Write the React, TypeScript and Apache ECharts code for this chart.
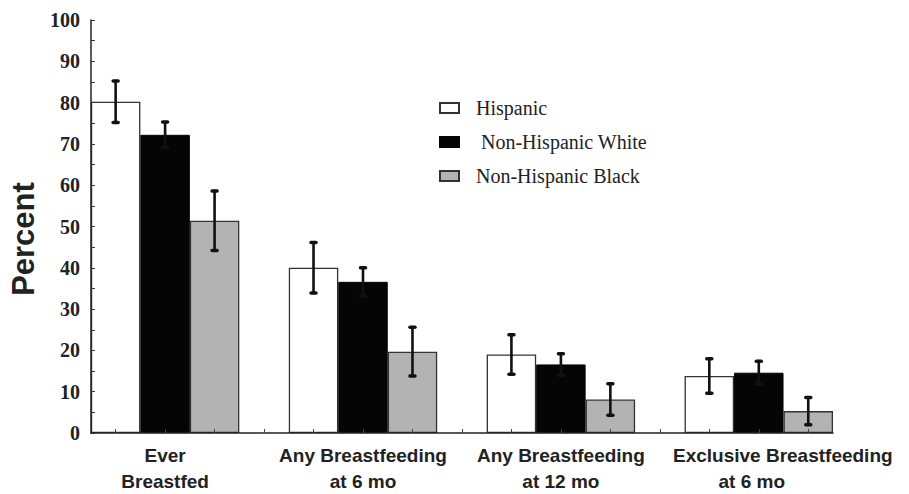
import React, { useEffect, useRef } from "react";
import * as echarts from "echarts";

const categories = ["Ever\nBreastfed", "Any Breastfeeding\nat 6 mo", "Any Breastfeeding\nat 12 mo", "Exclusive Breastfeeding\nat 6 mo"];
const seriesNames = ["Hispanic", "Non-Hispanic White", "Non-Hispanic Black"];
const hispanic = [80.2, 40.0, 19.0, 13.8];
const white = [72.2, 36.6, 16.6, 14.6];
const black = [51.4, 19.7, 8.1, 5.3];
const hispanicErr = [5.0, 6.1, 4.8, 4.2];
const whiteErr = [3.1, 3.4, 2.6, 2.8];
const blackErr = [7.2, 5.9, 3.8, 3.3];
const yTicks = { min: 0, max: 100, interval: 10 };

const SLOTS_PER_GROUP = 4;

export default function App() {
  const ref = useRef<HTMLDivElement>(null);
  useEffect(() => {
    if (!ref.current) return;
    document.body.style.margin = "0";
    const chart = echarts.init(ref.current, null, { renderer: "svg" });
    const totalSlots = categories.length * SLOTS_PER_GROUP - 1;
    const slotLabels: string[] = [];
    for (let i = 0; i < totalSlots; i++) {
      slotLabels.push(i % SLOTS_PER_GROUP === 1 ? categories[Math.floor(i / SLOTS_PER_GROUP)] : "");
    }
    const lastLabel = categories[categories.length - 1];
    const values = [hispanic, white, black];
    const errs = [hispanicErr, whiteErr, blackErr];
    const styles = [
      { color: "#ffffff", borderColor: "#333333", borderWidth: 1.3 },
      { color: "#050505", borderColor: "#050505", borderWidth: 1 },
      { color: "#b3b3b3", borderColor: "#333333", borderWidth: 1.3 },
    ];
    const barSeries = values.map((vals, s) => ({
      name: seriesNames[s],
      type: "bar",
      barWidth: "100%",
      barGap: "-100%",
      itemStyle: styles[s],
      z: 2,
      data: vals.map((v, g) => [g * SLOTS_PER_GROUP + s, v]),
    }));
    const errData: number[][] = [];
    values.forEach((vals, s) => {
      vals.forEach((v, g) => {
        errData.push([g * SLOTS_PER_GROUP + s, v - errs[s][g], v + errs[s][g]]);
      });
    });
    const errSeries = {
      type: "custom",
      z: 5,
      silent: true,
      data: errData,
      renderItem: (params: any, api: any) => {
        const x = api.value(0);
        const lo = api.coord([x, api.value(1)]);
        const hi = api.coord([x, api.value(2)]);
        const cx = lo[0];
        const st = { stroke: "#111", lineWidth: 2.6, lineCap: "round" };
        const cap = 2.5;
        return {
          type: "group",
          children: [
            { type: "line", shape: { x1: cx, y1: lo[1], x2: cx, y2: hi[1] }, style: st },
            { type: "line", shape: { x1: cx - cap, y1: lo[1], x2: cx + cap, y2: lo[1] }, style: { ...st, lineWidth: 3.5 } },
            { type: "line", shape: { x1: cx - cap, y1: hi[1], x2: cx + cap, y2: hi[1] }, style: { ...st, lineWidth: 3.5 } },
          ],
        };
      },
    };
    const labelFont = {
      fontFamily: "'Liberation Sans', Arial, sans-serif",
      fontWeight: "bold",
      fontSize: 19,
      lineHeight: 26,
      color: "#222",
    };
    chart.setOption({
      animation: false,
      backgroundColor: "#ffffff",
      grid: { left: 88, right: 76, top: 20, bottom: 56, containLabel: false },
      legend: {
        orient: "vertical",
        left: 434,
        top: 93,
        itemWidth: 19,
        itemHeight: 10,
        itemGap: 14,
        icon: "rect",
        data: seriesNames,
        formatter: (n: string) => (n === "Non-Hispanic White" ? " " + n : n),
        textStyle: {
          fontFamily: "'Liberation Serif', 'Times New Roman', serif",
          fontSize: 20,
          color: "#222",
          padding: [0, 0, 0, 12],
        },
      },
      xAxis: {
        type: "category",
        data: slotLabels,
        boundaryGap: true,
        z: 4,
        axisLine: { show: true, lineStyle: { color: "#222", width: 1.5 } },
        axisTick: { show: true, inside: true, alignWithLabel: true, interval: 0, length: 4, lineStyle: { color: "#444" } },
        axisLabel: {
          interval: 0,
          margin: 9,
          ...labelFont,
          formatter: (v: string) => {
            if (v === lastLabel) {
              const parts = v.split("\n");
              return "{shift|" + parts[0] + "}\n{back|" + parts[1] + "}";
            }
            return v;
          },
          rich: {
            shift: { ...labelFont, padding: [0, 0, 0, 48] },
            back: { ...labelFont, padding: [0, 14, 0, 0] },
          },
        },
      },
      yAxis: {
        type: "value",
        min: yTicks.min,
        max: yTicks.max,
        interval: yTicks.interval,
        z: 4,
        name: "Percent",
        nameLocation: "middle",
        nameGap: 40,
        nameTextStyle: {
          fontFamily: "'Liberation Sans', Arial, sans-serif",
          fontWeight: "bold",
          fontSize: 31,
          color: "#222",
          padding: [0, 25, 0, 0],
        },
        splitLine: { show: false },
        axisLine: { show: true, lineStyle: { color: "#222", width: 1.5 } },
        axisTick: { show: true, inside: true, length: 4, lineStyle: { color: "#333" } },
        minorTick: { show: true, splitNumber: 2, length: 4, lineStyle: { color: "#333" } },
        axisLabel: {
          margin: 11,
          fontFamily: "'Liberation Serif', 'Times New Roman', serif",
          fontWeight: "bold",
          fontSize: 20,
          color: "#222",
          padding: [6, 0, 0, 0],
        },
      },
      series: [...barSeries, errSeries],
    });
    return () => chart.dispose();
  }, []);
  return <div ref={ref} style={{ width: 909, height: 494 }} />;
}
